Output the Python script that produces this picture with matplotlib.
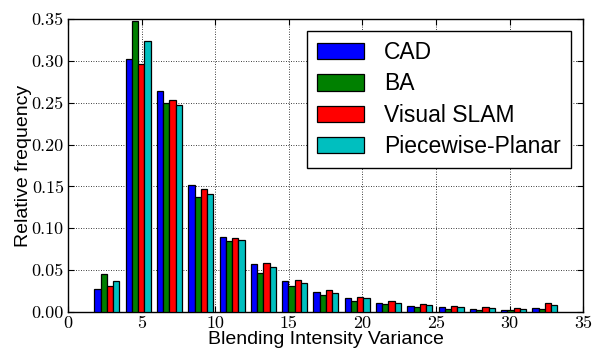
import matplotlib
matplotlib.use("Agg")
import matplotlib.pyplot as plt
import numpy as np
from matplotlib.ticker import FuncFormatter, MultipleLocator
from matplotlib import font_manager

plt.rcParams['font.family'] = ['Liberation Sans', 'DejaVu Sans']

# Histogram bin edges (Blending Intensity Variance)
bin_edges = [1.58, 3.71, 5.83, 7.96, 10.08, 12.21, 14.34, 16.46, 18.59,
             20.71, 22.84, 24.97, 27.09, 29.22, 31.34, 33.47]

series_names = ["CAD", "BA", "Visual SLAM", "Piecewise-Planar"]
cad = [0.0267, 0.303, 0.2646, 0.1512, 0.0898, 0.0567, 0.0367, 0.0235,
       0.0160, 0.0108, 0.0074, 0.0054, 0.0036, 0.0026, 0.0048]
ba = [0.0447, 0.3476, 0.2498, 0.1369, 0.0846, 0.0459, 0.0307, 0.0200,
      0.0128, 0.0088, 0.0052, 0.0032, 0.0024, 0.0016, 0.0038]
vslam = [0.0307, 0.2965, 0.2538, 0.1465, 0.0886, 0.0579, 0.0379, 0.0255,
         0.0180, 0.0124, 0.0094, 0.0066, 0.0052, 0.0040, 0.0100]
pplanar = [0.0371, 0.324, 0.2478, 0.1405, 0.0854, 0.0531, 0.0339, 0.0223,
           0.0164, 0.0108, 0.0082, 0.0056, 0.0040, 0.0028, 0.0080]
series = [cad, ba, vslam, pplanar]
colors = ["#0000ff", "#008000", "#ff0000", "#00bfbf"]

# Computer-Modern-like serif for tick labels if available
avail = {f.name for f in font_manager.fontManager.ttflist}
tick_family = 'cmr10' if 'cmr10' in avail else 'Liberation Serif'

fig = plt.figure(figsize=(5.92, 3.5), dpi=100)
ax = fig.add_axes([0.1149, 0.1094, 0.8701, 0.8356])

edges = np.array(bin_edges)
left = edges[:-1]
w = np.diff(edges)
rwidth = 0.8
n = len(series)
bw = w * rwidth / n
for i, (vals, name, c) in enumerate(zip(series, series_names, colors)):
    ax.bar(left + w * (1 - rwidth) / 2 + i * bw, vals, width=bw, align='edge',
           color=c, edgecolor='black', linewidth=0.9, label=name, zorder=3)

ax.set_xlim(0, 35)
ax.set_ylim(0, 0.35)
ax.xaxis.set_major_locator(MultipleLocator(5))
ax.yaxis.set_major_locator(MultipleLocator(0.05))
ax.xaxis.set_major_formatter(FuncFormatter(lambda v, p: '%d' % v))
ax.yaxis.set_major_formatter(FuncFormatter(lambda v, p: '%.2f' % v))
ax.tick_params(direction='in', top=True, right=True, labelsize=13, length=4,
               pad=3, labelfontfamily=tick_family)
ax.grid(True, color='black', linestyle=(0, (1, 2)), linewidth=0.6, zorder=0)
ax.set_axisbelow(True)
for s in ax.spines.values():
    s.set_linewidth(1.0)

ax.set_xlabel("Blending Intensity Variance", fontsize=14, labelpad=0)
ax.set_ylabel("Relative frequency", fontsize=14)
ax.yaxis.set_label_coords(-0.069, 0.5)

leg = ax.legend(loc='upper right', fontsize=16.5, fancybox=False,
                edgecolor='black', framealpha=1, handlelength=2.05,
                handleheight=0.71, labelspacing=0.36, borderaxespad=0.52,
                handletextpad=0.87, borderpad=0.44)
leg.get_frame().set_linewidth(1.0)

fig.savefig("out.png", dpi=100)
